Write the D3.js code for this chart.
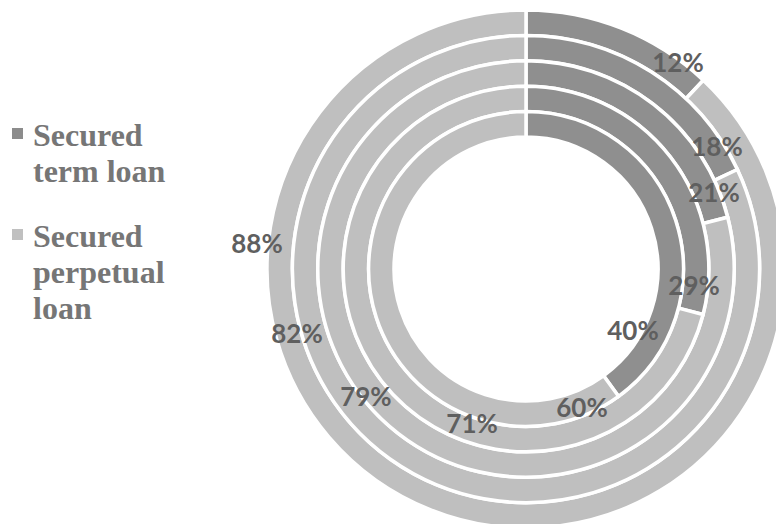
<!DOCTYPE html>
<html>
<head>
<meta charset="utf-8">
<script src="https://cdn.jsdelivr.net/npm/d3@7/dist/d3.min.js"></script>
<style>
  html, body { margin: 0; padding: 0; background: #ffffff; }
  svg { display: block; }
</style>
</head>
<body>
<svg id="chart" width="776" height="524"></svg>
<script>
// Share of each loan type, one ring per segment (outer ring first)
const rings = ["Ring 1", "Ring 2", "Ring 3", "Ring 4", "Ring 5"];
const termLoan = [12, 18, 21, 29, 40];
const perpetualLoan = [88, 82, 79, 71, 60];
const seriesNames = ["Secured term loan", "Secured perpetual loan"];
const legendLines = [["Secured", "term loan"], ["Secured", "perpetual", "loan"]];

const width = 776, height = 524;
const cx = 526, cy = 269;
const outerR = 259, innerR = 132;
const colors = ["#8f8f8f", "#bfbfbf"];
const legendColors = ["#8c8c8c", "#c0c0c0"];

const svg = d3.select("#chart");

// Radial band scale: one band per ring, ring 1 outermost
const ringScale = d3.scaleBand()
  .domain(rings.slice().reverse())
  .range([innerR, outerR]);

const pie = d3.pie().sort(null).value(d => d.value);

const g = svg.append("g").attr("transform", `translate(${cx},${cy})`);

// Label placement around the rings (angle in degrees clockwise from 12 o'clock, radius in px)
const labelPlacement = {
  term:      [[36.3, 256.8], [57.2, 227.2], [67.7, 203.2], [95.4, 168.8], [119.7, 123.2]],
  perpetual: [[275.5, 270.3], [254.4, 237.8], [231.6, 204.3], [199.3, 163.2], [157.9, 148.9]]
};

rings.forEach((ring, i) => {
  const slices = pie([
    { key: "term", value: termLoan[i], color: colors[0] },
    { key: "perpetual", value: perpetualLoan[i], color: colors[1] }
  ]);
  const rIn = ringScale(ring);
  const rOut = rIn + ringScale.bandwidth();
  const arc = d3.arc().innerRadius(rIn).outerRadius(rOut);

  g.selectAll(null)
    .data(slices)
    .join("path")
    .attr("d", arc)
    .attr("fill", d => d.data.color)
    .attr("stroke", "#ffffff")
    .attr("stroke-width", 3.5);
});

// Percentage labels
const labelLayer = g.append("g");
rings.forEach((ring, i) => {
  [["term", termLoan[i]], ["perpetual", perpetualLoan[i]]].forEach(([key, v]) => {
    const [deg, r] = labelPlacement[key][i];
    const a = deg * Math.PI / 180;
    labelLayer.append("text")
      .attr("x", r * Math.sin(a))
      .attr("y", -r * Math.cos(a))
      .attr("text-anchor", "middle")
      .attr("dominant-baseline", "central")
      .attr("font-family", "Lato, 'Open Sans', sans-serif")
      .attr("font-weight", "bold")
      .attr("font-size", 26)
      .attr("fill", "#5f5f5f")
      .text(v + "%");
  });
});

// Legend
const legend = svg.append("g");
const legendTop = [128, 229];
seriesNames.forEach((name, i) => {
  legend.append("rect")
    .attr("x", 12)
    .attr("y", legendTop[i])
    .attr("width", 11)
    .attr("height", 11)
    .attr("fill", legendColors[i]);
  const t = legend.append("text")
    .attr("x", 33)
    .attr("y", legendTop[i] + 18)
    .attr("font-family", "'Liberation Serif', 'Times New Roman', serif")
    .attr("font-weight", "bold")
    .attr("font-size", 32)
    .attr("fill", "#767676");
  legendLines[i].forEach((line, j) => {
    t.append("tspan")
      .attr("x", 33)
      .attr("dy", j === 0 ? 0 : 36)
      .text(line);
  });
});
</script>
</body>
</html>
